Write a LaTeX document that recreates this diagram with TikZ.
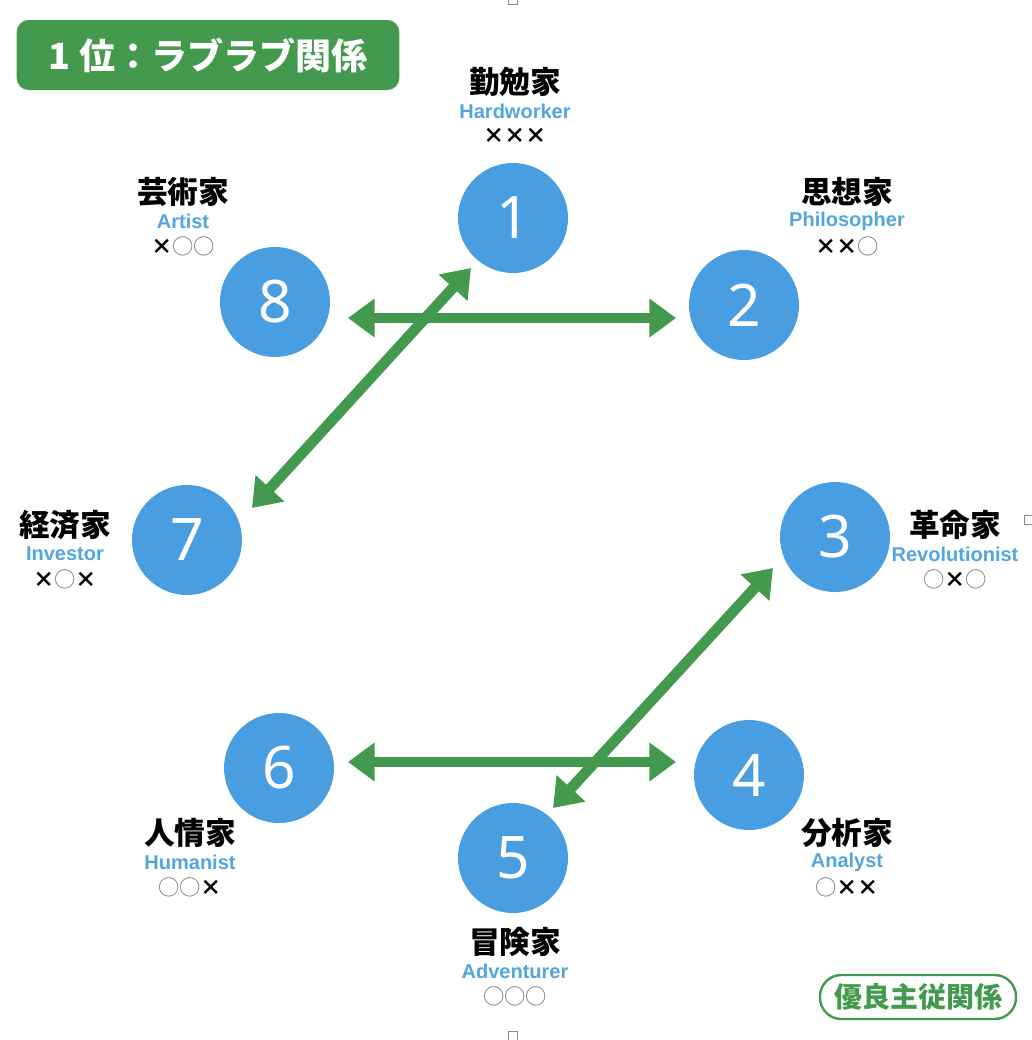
\documentclass[tikz,border=0pt]{standalone}
\usepackage{fontspec}
\usetikzlibrary{arrows.meta}
\newfontfamily\jpfont{Noto Sans CJK JP}
\newfontfamily\enfont{Liberation Sans}
\newfontfamily\numfont{Noto Sans}
\definecolor{loveGreen}{RGB}{67,154,78}
\definecolor{typeBlue}{RGB}{73,158,225}
\definecolor{nameBlue}{RGB}{82,166,222}
\newcommand{\mx}{{\bfseries ×}}
\newcommand{\mo}{{\color{black!55}○}}

\begin{document}
\begin{tikzpicture}[x=0.75pt, y=-0.75pt,
    typ/.style={circle, fill=typeBlue, minimum size=82.5pt, inner sep=0pt, text=white, font=\numfont\fontsize{44}{44}\selectfont},
    jname/.style={font=\jpfont\bfseries\fontsize{23}{23}\selectfont, inner sep=0pt},
    ename/.style={font=\enfont\bfseries\fontsize{15}{15}\selectfont, text=nameBlue, inner sep=0pt},
    marks/.style={font=\jpfont\fontsize{16}{16}\selectfont, inner sep=0pt},
    love/.style={draw=loveGreen, line width=8pt, {Triangle[length=20pt,width=28pt]}-{Triangle[length=20pt,width=28pt]}},
    handle/.style={draw=black!45, line width=0.6pt, fill=white, minimum size=7pt, inner sep=0pt}]
        \useasboundingbox (0,0) rectangle (1032,1040);
        \node[handle] (h1) at (513,0) {};
        \node[handle] (h2) at (1029,520) {};
        \node[handle] (h3) at (513,1036) {};
        % rank badges
        \node[fill=loveGreen, rounded corners=9pt, minimum width=287pt, minimum height=52.5pt, text=white, font=\jpfont\bfseries\fontsize{27}{27}\selectfont] (title) at (208,55) {1 位：ラブラブ関係};
        \node[draw=loveGreen, line width=1.8pt, rounded corners=16pt, minimum width=147pt, minimum height=33pt, text=loveGreen, font=\jpfont\bfseries\fontsize{21}{21}\selectfont] (rank) at (918,997) {優良主従関係};
        % types
        \node[typ] (n1) at (513,218) {1};
        \node[typ] (n2) at (744,305) {2};
        \node[typ] (n3) at (835,537) {3};
        \node[typ] (n4) at (749,775) {4};
        \node[typ] (n5) at (513,858) {5};
        \node[typ] (n6) at (279,768) {6};
        \node[typ] (n7) at (187,540) {7};
        \node[typ] (n8) at (275,302) {8};
        \foreach \n/\px/\py/\jp/\en/\mk in {1/515/82/勤勉家/Hardworker/\mx\mx\mx, 2/847/192/思想家/Philosopher/\mx\mx\mo,
            3/955/525/革命家/Revolutionist/\mo\mx\mo, 4/847/833/分析家/Analyst/\mo\mx\mx, 5/515/942/冒険家/Adventurer/\mo\mo\mo,
            6/190/833/人情家/Humanist/\mo\mo\mx, 7/65/525/経済家/Investor/\mx\mo\mx, 8/183/192/芸術家/Artist/\mx\mo\mo} {
            \node[jname] (j\n) at (\px,\py) {\jp};
            \node[ename] (e\n) at (\px,\py+29) {\en};
            \node[marks] (m\n) at (\px,\py+54) {\mk};
        }
        % pairs
        \coordinate (a8) at (348,318);
        \coordinate (a2) at (676,318);
        \coordinate (a1) at (471,268);
        \coordinate (a7) at (252,508);
        \coordinate (a6) at (348,762);
        \coordinate (a4) at (676,762);
        \coordinate (a3) at (773,568);
        \coordinate (a5) at (553,808);
        \draw[love] (a8) -- (a2);
        \draw[love] (a7) -- (a1);
        \draw[love] (a6) -- (a4);
        \draw[love] (a3) -- (a5);
\end{tikzpicture}
\end{document}
